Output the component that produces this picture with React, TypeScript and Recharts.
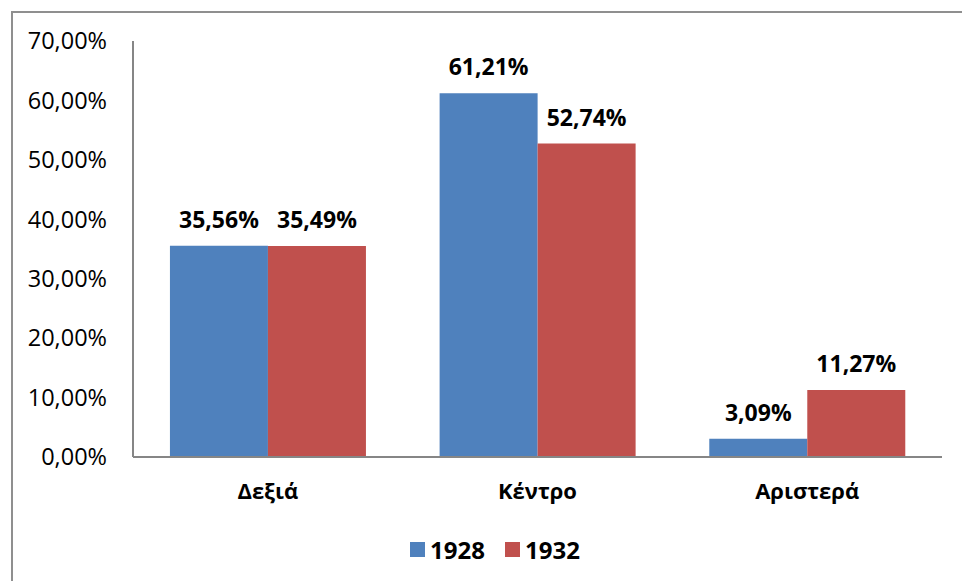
import { BarChart, Bar, XAxis, YAxis, Legend, LabelList } from "recharts";

const categories = ["Δεξιά", "Κέντρο", "Αριστερά"];
const values1928 = [35.56, 61.21, 3.09];
const values1932 = [35.49, 52.74, 11.27];
const yTicks = [0, 10, 20, 30, 40, 50, 60, 70];

const data = categories.map((name, i) => ({
  name,
  y1928: values1928[i],
  y1932: values1932[i],
}));

const FONT = "'Open Sans', 'DejaVu Sans', sans-serif";
const BLUE = "#4F81BD";
const RED = "#C0504D";
const AXIS = "#868686";

const fmt = (v: number) => v.toFixed(2).replace(".", ",") + "%";

function LegendBox() {
  const items = [
    { label: "1928", color: BLUE },
    { label: "1932", color: RED },
  ];
  return (
    <div
      style={{
        display: "flex",
        justifyContent: "center",
        alignItems: "center",
        height: 30,
        paddingLeft: 48,
        fontFamily: FONT,
        fontSize: 24,
        fontWeight: 700,
        color: "#000",
      }}
    >
      {items.map((it, i) => (
        <div key={it.label} style={{ display: "flex", alignItems: "center", marginLeft: i ? 20 : 0 }}>
          <span style={{ width: 15, height: 15, background: it.color, marginRight: 5, display: "inline-block" }} />
          <span>{it.label}</span>
        </div>
      ))}
    </div>
  );
}

export default function App() {
  return (
    <div style={{ position: "absolute", left: 0, top: 0, width: 962, height: 581, overflow: "hidden", background: "#fff" }}>
      <div
        style={{
          position: "absolute",
          left: 11,
          top: 11,
          width: 1100,
          height: 800,
          border: "2px solid #8f8f8f",
        }}
      />
      <div style={{ position: "absolute", left: 0, top: 0 }}>
        <BarChart
          width={962}
          height={581}
          data={data}
          margin={{ top: 41, right: 20, left: 0, bottom: 17 }}
          barGap={0}
          barCategoryGap="13.7%"
        >
          <XAxis
            dataKey="name"
            height={77}
            stroke={AXIS}
            strokeWidth={2}
            tickLine={false}
            tickSize={0}
            tickMargin={26}
            tick={{ fontFamily: FONT, fontSize: 22, fontWeight: 700, fill: "#000" }}
          />
          <YAxis
            width={133}
            domain={[0, 70]}
            ticks={yTicks}
            stroke={AXIS}
            strokeWidth={2}
            tickLine={false}
            tickSize={0}
            tickMargin={26}
            tickFormatter={fmt}
            tick={{ fontFamily: FONT, fontSize: 23.5, fill: "#000" }}
          />
          <Legend verticalAlign="bottom" height={30} content={() => <LegendBox />} />
          <Bar dataKey="y1928" name="1928" fill={BLUE} isAnimationActive={false}>
            <LabelList
              dataKey="y1928"
              position="top"
              offset={18}
              formatter={(v: any) => fmt(Number(v))}
              style={{ fontFamily: FONT, fontSize: 23, fontWeight: 700, fill: "#000" }}
            />
          </Bar>
          <Bar dataKey="y1932" name="1932" fill={RED} isAnimationActive={false}>
            <LabelList
              dataKey="y1932"
              position="top"
              offset={18}
              formatter={(v: any) => fmt(Number(v))}
              style={{ fontFamily: FONT, fontSize: 23, fontWeight: 700, fill: "#000" }}
            />
          </Bar>
        </BarChart>
      </div>
    </div>
  );
}
